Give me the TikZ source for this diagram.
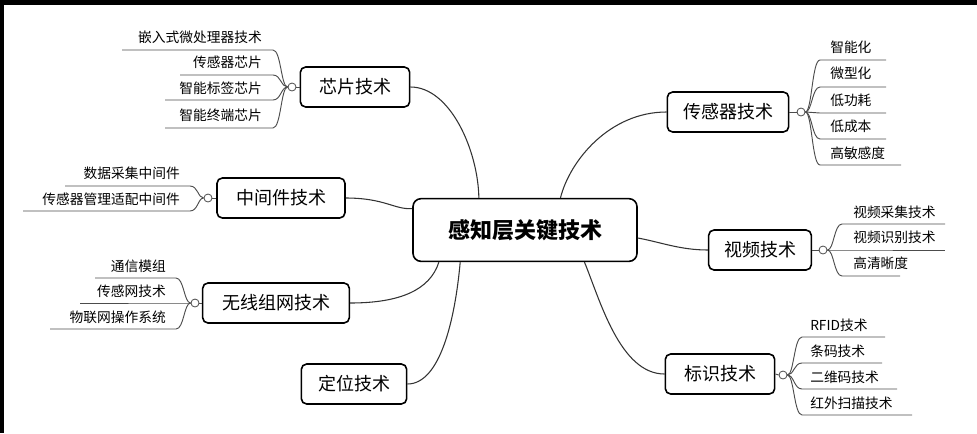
\documentclass[tikz,border=0pt]{standalone}
\usepackage{fontspec}
\setmainfont{Noto Sans CJK SC}
\usetikzlibrary{calc}
\tikzset{
  mainbox/.style={draw,very thick,rounded corners=4pt,minimum height=30pt,font=\fontsize{13.5}{16}\selectfont,inner sep=0pt},
  ctrbox/.style={draw,very thick,rounded corners=6pt,minimum width=168pt,minimum height=47pt,font=\fontsize{16.5}{19}\bfseries\selectfont},
  link/.style={draw=black!80,line width=0.8pt},
  brc/.style={draw=black!70,line width=0.7pt},
  knob/.style={circle,draw=black!70,fill=white,line width=0.6pt,inner sep=0pt,minimum size=6pt},
  item/.style={font=\fontsize{10.3}{12}\selectfont,inner sep=0pt}
}
\begin{document}
\begin{tikzpicture}[x=0.75pt,y=-0.75pt]
\useasboundingbox (0,0) rectangle (977,433);
\fill[black] (0,0) rectangle (977,5);
\fill[black] (0,0) rectangle (4,433);

\node[ctrbox] (ctr) at (525,230) {感知层关键技术};
\node[mainbox,minimum width=82pt] (chip) at (355,87) {芯片技术};
\node[mainbox,minimum width=96pt] (mid) at (281,198) {中间件技术};
\node[mainbox,minimum width=110pt] (wsn) at (276,303) {无线组网技术};
\node[mainbox,minimum width=79pt] (pos) at (354,384) {定位技术};
\node[mainbox,minimum width=91pt] (sen) at (728,112) {传感器技术};
\node[mainbox,minimum width=77pt] (vid) at (760,250) {视频技术};
\node[mainbox,minimum width=82pt] (ide) at (720,374) {标识技术};

% main connectors
\draw[link] (chip.east) .. controls (450,87) and (478,150) .. ([xshift=50pt]ctr.north west);
\draw[link] (mid.east) .. controls (385,198) and (395,210) .. ([yshift=-8pt]ctr.north west);
\draw[link] (wsn.east) .. controls (400,303) and (430,290) .. ([xshift=20pt]ctr.south west);
\draw[link] (pos.east) .. controls (440,384) and (455,320) .. ([xshift=36pt]ctr.south west);
\draw[link] (sen.west) .. controls (610,112) and (570,160) .. ([xshift=-58pt]ctr.north east);
\draw[link] (vid.west) .. controls (680,250) and (660,242) .. ([yshift=-6pt]ctr.east);
\draw[link] (ide.west) .. controls (620,374) and (600,300) .. ([xshift=-40pt]ctr.south east);

% knobs
\node[knob] (kchip) at (292,87) {};
\node[knob] (kmid) at (208,198) {};
\node[knob] (kwsn) at (195,303) {};
\node[knob] (ksen) at (801,112) {};
\node[knob] (kvid) at (823,250) {};
\node[knob] (kide) at (783,375) {};
\draw[brc] (chip.west) -- (kchip.east);
\draw[brc] (mid.west) -- (kmid.east);
\draw[brc] (wsn.west) -- (kwsn.east);
\draw[brc] (sen.east) -- (ksen.west);
\draw[brc] (vid.east) -- (kvid.west);
\draw[brc] (ide.east) -- (kide.west);

% left items
\foreach \n/\t/\ty/\ly/\s in {c1/嵌入式微处理器技术/37/50/122, c2/传感器芯片/62/75/180, c3/智能标签芯片/88/100/165, c4/智能终端芯片/115/128/165}{
  \node[item,anchor=east] (\n) at (262,\ty) {\t};
  \draw[brc] (kchip.west) .. controls (281,87) and (281,\ly) .. (273,\ly) -- (\s,\ly);
}
\foreach \n/\t/\ty/\ly/\s in {m1/数据采集中间件/173/186/65, m2/传感器管理适配中间件/199/211/23}{
  \node[item,anchor=east] (\n) at (180,\ty) {\t};
  \draw[brc] (kmid.west) .. controls (198,198) and (198,\ly) .. (190,\ly) -- (\s,\ly);
}
\foreach \n/\t/\ty/\ly/\s in {w1/通信模组/266/278/95, w2/传感网技术/291/303/80, w3/物联网操作系统/317/329/50}{
  \node[item,anchor=east] (\n) at (166,\ty) {\t};
  \draw[brc] (kwsn.west) .. controls (184,303) and (184,\ly) .. (176,\ly) -- (\s,\ly);
}
% right items
\foreach \n/\t/\ty/\ly/\e in {s1/智能化/47/60/886, s2/微型化/73/87/886, s3/低功耗/100/113/886, s4/低成本/126/139/886, s5/高敏感度/153/165/901}{
  \node[item,anchor=west] (\n) at (830,\ty) {\t};
  \draw[brc] (ksen.east) .. controls (812,112) and (812,\ly) .. (820,\ly) -- (\e,\ly);
}
\foreach \n/\t/\ty/\ly/\e in {v1/视频采集技术/212/224/945, v2/视频识别技术/237/250/945, v3/高清晰度/263/276/900}{
  \node[item,anchor=west] (\n) at (853,\ty) {\t};
  \draw[brc] (kvid.east) .. controls (834,250) and (834,\ly) .. (842,\ly) -- (\e,\ly);
}
\foreach \n/\t/\ty/\ly/\e in {i1/RFID技术/325/337/885, i2/条码技术/351/363/882, i3/二维码技术/377/389/897, i4/红外扫描技术/403/415/912}{
  \node[item,anchor=west] (\n) at (810,\ty) {\t};
  \draw[brc] (kide.east) .. controls (794,375) and (794,\ly) .. (802,\ly) -- (\e,\ly);
}
\end{tikzpicture}
\end{document}
